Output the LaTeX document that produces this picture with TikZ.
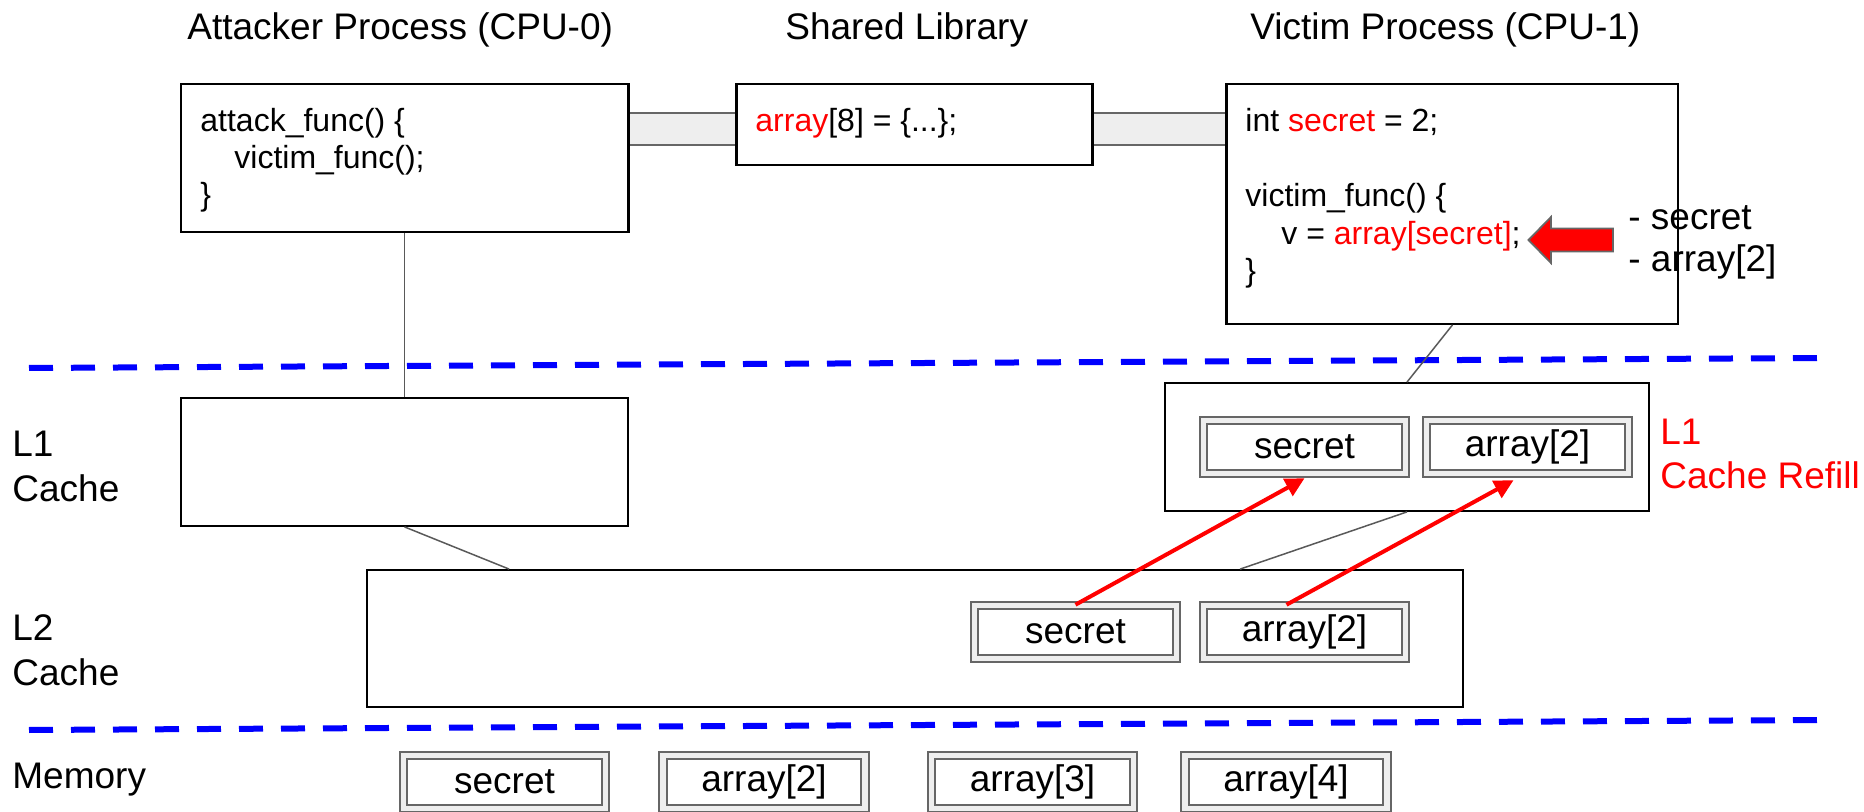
\documentclass[tikz,border=0pt]{standalone}
\usepackage{fontspec}
\setmainfont{Liberation Sans}
\usetikzlibrary{calc,arrows.meta}
\definecolor{cellgray}{HTML}{EEEEEE}
\definecolor{edgegray}{HTML}{666666}
\definecolor{linkgray}{HTML}{595959}
\definecolor{pureblue}{RGB}{0,0,255}
\definecolor{purered}{RGB}{255,0,0}
\newcommand\lblfont{\fontsize{18.5}{22}\selectfont}
\newcommand\codefnt{\fontsize{16}{19}\selectfont}
\begin{document}
\begin{tikzpicture}[x=0.5pt,y=-0.5pt,
  box/.style={draw=black, line width=0.9pt, fill=white, inner sep=0pt},
  cell/.style={draw=edgegray, line width=0.9pt, double=cellgray, double distance=2.8pt,
    fill=white, minimum width=101pt, minimum height=26.4pt, inner sep=0pt, font=\lblfont},
  lbl/.style={inner sep=0pt, font=\lblfont},
  code/.style={inner sep=0pt, font=\codefnt, anchor=base west},
  link/.style={draw=linkgray, line width=0.75pt},
  bar/.style={draw=edgegray, line width=0.9pt, fill=cellgray},
  sep/.style={draw=pureblue, line width=3pt, dash pattern=on 12pt off 9pt},
  refill/.style={draw=purered, line width=2pt, -{Triangle[length=9.5pt,width=9.5pt]}}
]
\useasboundingbox (0,0) rectangle (1864,812);

% titles
\node[lbl, anchor=base west] (t1) at (187,40) {Attacker Process (CPU-0)};
\node[lbl, anchor=base west] (t2) at (785,40) {Shared Library};
\node[lbl, anchor=base west] (t3) at (1250,40) {Victim Process (CPU-1)};

% process boxes
\node[box, minimum width=223.5pt, minimum height=74pt] (att) at (404.5,158) {};
\node[box, minimum width=177.5pt, minimum height=40.5pt] (shared) at (914.5,124.5) {};
\node[box, minimum width=225.5pt, minimum height=120pt] (victim) at (1452.5,204) {};

% shared-memory bars
\draw[bar] ($(att.north east)+(0,30)$) rectangle ($(shared.north west)+(0,62)$);
\draw[bar] ($(shared.north east)+(0,30)$) rectangle ($(victim.north west)+(0,62)$);
\draw[line width=0.9pt] (att.north east) -- (att.south east);
\draw[line width=0.9pt] (shared.north west) -- (shared.south west);
\draw[line width=0.9pt] (shared.north east) -- (shared.south east);
\draw[line width=0.9pt] (victim.north west) -- (victim.south west);

% code
\node[code] (a1) at (200,131.7) {attack\_func() \{};
\node[code] (a2) at (234,168.5) {victim\_func();};
\node[code] (a3) at (200,206) {\}};
\node[code] (s1) at (755,131.7) {\textcolor{purered}{array}[8] = \{...\};};
\node[code] (v1) at (1245,131.7) {int \textcolor{purered}{secret} = 2;};
\node[code] (v2) at (1245,206.7) {victim\_func() \{};
\node[code] (v3) at (1281,244.5) {v = \textcolor{purered}{array[secret]};};
\node[code] (v4) at (1245,282) {\}};

% fat red arrow
\draw[fill=purered, draw=edgegray, line width=0.9pt, line join=miter]
  (1528.5,240) -- (1551,217) -- (1551,228.5) -- (1613,228.5) -- (1613,251.5)
  -- (1551,251.5) -- (1551,263) -- cycle;
\node[lbl, anchor=base west] (k1) at (1628,230) {- secret};
\node[lbl, anchor=base west] (k2) at (1628,272) {- array[2]};

% separators
\draw[sep] (29,368) -- (1821,358);
\draw[sep] (29,730) -- (1821,720);

% level labels
\node[lbl, anchor=base west] (l1a1) at (12,456.7) {L1};
\node[lbl, anchor=base west] (l1a2) at (12,501.7) {Cache};
\node[lbl, anchor=base west] (l2a1) at (12,640.7) {L2};
\node[lbl, anchor=base west] (l2a2) at (12,685) {Cache};
\node[lbl, anchor=base west] (mem) at (12,788) {Memory};
\node[lbl, anchor=base west, text=purered] (r1) at (1660,445) {L1};
\node[lbl, anchor=base west, text=purered] (r2) at (1660,488) {Cache Refill};

% cache boxes
\node[box, minimum width=223.5pt, minimum height=64pt] (l1a) at (404.5,462) {};
\node[box, minimum width=242pt, minimum height=64pt] (l1v) at (1407,447) {};
\node[box, minimum width=548pt, minimum height=68.5pt] (l2) at (915,638.5) {};

% connectors
\draw[link] (att.south) -- (l1a.north);
\draw[link] (l1a.south) -- ([xshift=71.5pt]l2.north west);
\draw[link] (victim.south) -- (l1v.north);
\draw[link] (l1v.south) -- ([xshift=437pt]l2.north west);

% cells
\node[cell] (c1s) at (1304.5,447) {secret};
\node[cell] (c1a) at (1527.5,447) {array[2]};
\node[cell] (c2s) at (1075.5,632) {secret};
\node[cell] (c2a) at (1304.5,632) {array[2]};
\node[cell] (m1) at (504.5,782) {secret};
\node[cell] (m2) at (764,782) {array[2]};
\node[cell] (m3) at (1032.5,782) {array[3]};
\node[cell] (m4) at (1286,782) {array[4]};

% refill arrows
\draw[refill] (c2s.north) -- ([yshift=-2pt]c1s.south);
\draw[refill] ([xshift=-9pt]c2a.north) -- ([xshift=-7pt,yshift=-3pt]c1a.south);
\end{tikzpicture}
\end{document}
